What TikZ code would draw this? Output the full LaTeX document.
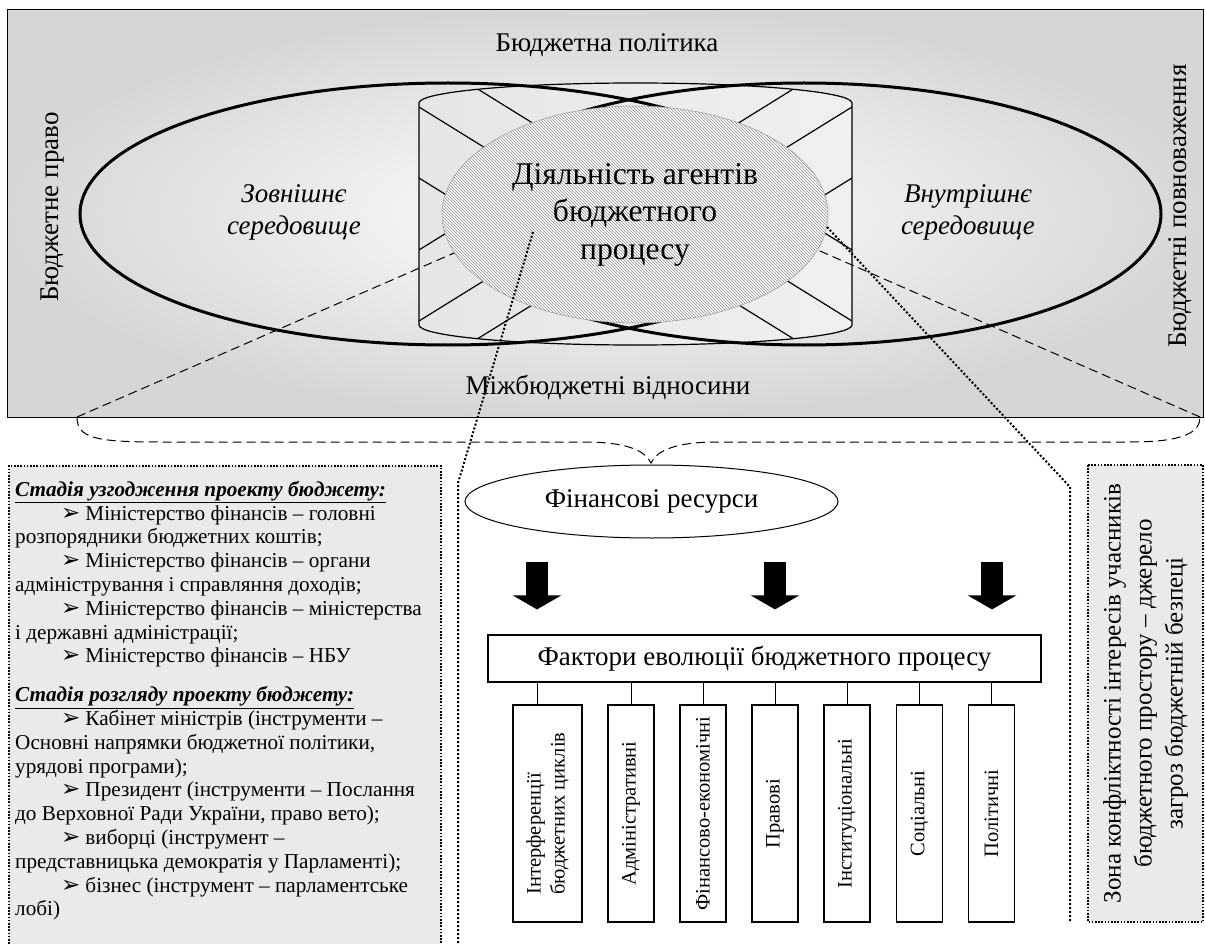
\documentclass[tikz,border=0pt]{standalone}
\usepackage{fontspec}
\setmainfont{Liberation Serif}
\newfontfamily\dejavu{DejaVu Sans}
\usetikzlibrary{shapes.geometric,arrows.meta,positioning,patterns,calc}
\definecolor{boxgrey}{RGB}{234,234,234}
\newcommand{\itemarrow}{\hspace*{46pt}{\dejavu\fontsize{23}{23}\selectfont ➢}\hspace{5pt}}

\begin{document}
\begin{tikzpicture}[x=1pt,y=-1pt,>=Latex,
  lbl/.style={font=\fontsize{27}{31}\selectfont},
  env/.style={font=\fontsize{27}{32}\selectfont\itshape,align=center},
  bigring/.style={line width=3pt},
  canline/.style={line width=1.2pt},
  dashline/.style={line width=1pt,dash pattern=on 9pt off 5pt},
  dotline/.style={line width=2pt,dash pattern=on 2pt off 2pt},
  notebox/.style={draw,line width=1.6pt,dash pattern=on 1.6pt off 1.6pt,fill=boxgrey},
  factor/.style={draw,line width=1.2pt,rotate=90,minimum width=217pt,minimum height=46pt,inner sep=2pt,font=\fontsize{20.5}{24}\selectfont,align=left},
  bigarrow/.style={line width=22pt,-{Triangle[width=48pt,length=14pt]}}]
\useasboundingbox (0,0) rectangle (1205,944);

% budget space
\draw[line width=1pt,inner color=white,outer color=black!16] (7,10) rectangle (1203,417);

% cylinder with the crossed bands
\begin{scope}
\path[clip] (419,103) arc[start angle=180,end angle=0,x radius=216.5pt,y radius=20pt] -- (852,325) arc[start angle=0,end angle=-180,x radius=216.5pt,y radius=20pt] -- cycle;
\fill[left color=black!10,middle color=white,right color=black!6] (419,80) rectangle (852,350);
\draw[canline] (468,83) -- (852,321);
\draw[canline] (419,107) -- (852,375);
\draw[canline] (803,83) -- (419,321);
\draw[canline] (852,107) -- (419,375);
\draw[canline] (419,178) -- (477,214) -- (419,250);
\draw[canline] (852,178) -- (794,214) -- (852,250);
\end{scope}
\draw[canline] (419,103) arc[start angle=180,end angle=0,x radius=216.5pt,y radius=20pt] -- (852,325) arc[start angle=0,end angle=-180,x radius=216.5pt,y radius=20pt] -- cycle;

% environments
\draw[bigring] (448,214) ellipse[x radius=368pt,y radius=131pt];
\draw[bigring] (804,214) ellipse[x radius=357pt,y radius=131pt];

\node[ellipse,minimum width=386pt,minimum height=217pt,inner sep=0pt,draw=black!40,line width=0.5pt,
  preaction={fill=white},pattern=north west lines,pattern color=black!45,
  align=center,font=\fontsize{31.6}{37.5}\selectfont] (agents) at (635,214.5) {Діяльність агентів\\бюджетного\\процесу};

\node[lbl] (policy) at (607,45) {Бюджетна політика};
\node[lbl] (transfers) at (608,387) {Міжбюджетні відносини};
\node[lbl,rotate=90] (law) at (53,207) {Бюджетне право};
\node[lbl,rotate=90] (powers) at (1180,206) {Бюджетні повноваження};
\node[env] (outside) at (294,212) {Зовнішнє\\середовище};
\node[env] (inside) at (968,212) {Внутрішнє\\середовище};

% brace under the space
\coordinate (braceL) at (77,417);
\coordinate (braceR) at (1200,417);
\coordinate (braceTip) at (651,463);
\draw[dashline] (braceL) .. controls (77,438) and (95,442) .. (160,442) -- (585,442)
  .. controls (625,442) and (645,450) .. (braceTip) .. controls (657,450) and (677,442) .. (717,442)
  -- (1130,442) .. controls (1185,442) and (1200,432) .. (braceR);
\draw[dashline] (braceL) -- (agents.192);
\draw[dashline] (braceR) -- (agents.349);

% dotted leaders
\coordinate (dotL) at (533,232);
\coordinate (bendL) at (458,483);
\coordinate (footL) at (458,944);
\coordinate (dotR) at (827,227);
\coordinate (bendR) at (1070,487);
\coordinate (footR) at (1070,922);
\draw[dotline] (dotL) -- (bendL) -- (footL);
\draw[dotline] (dotR) -- (bendR) -- (footR);

% resources and factors
\node[ellipse,draw,line width=1pt,minimum width=373pt,minimum height=73pt,font=\fontsize{27}{31}\selectfont] (res) at (651.5,501.5) {Фінансові ресурси};
\node[draw,line width=1.2pt,minimum width=553pt,minimum height=47pt,font=\fontsize{27}{31}\selectfont] (factors) at (764.5,658.5) {Фактори еволюції бюджетного процесу};

\coordinate (arrA) at (537,562);
\coordinate (arrB) at (775,562);
\coordinate (arrC) at (992,562);
\foreach \a in {arrA,arrB,arrC}
  \draw[bigarrow,shorten >=25pt] (\a) -- (\a |- factors.north);

\node[factor,minimum height=69pt] (f1) at (547.5,813.5) {Інтерференції\\бюджетних циклів};
\node[factor] (f2) at (631,813.5) {Адміністративні};
\node[factor] (f3) at (703,813.5) {Фінансово-економічні};
\node[factor] (f4) at (775,813.5) {Правові};
\node[factor] (f5) at (847,813.5) {Інституціональні};
\node[factor] (f6) at (919.5,813.5) {Соціальні};
\node[factor] (f7) at (991.5,813.5) {Політичні};
\draw[line width=1pt] ([xshift=-10pt]f1.east) -- ([xshift=-10pt]f1.east |- factors.south);
\foreach \i in {2,...,7}
  \draw[line width=1pt] (f\i.east) -- (f\i.east |- factors.south);

% stages of the budget
\node[notebox,anchor=north west,minimum width=432pt,minimum height=490pt] (stagesbox) at (8,465) {};
\node[anchor=north west,align=left,inner sep=0pt,font=\fontsize{21.2}{23.8}\selectfont] (stages) at (15,481) {%
\underline{\textbf{\textit{Стадія узгодження проекту бюджету:}}}\\
\itemarrow Міністерство фінансів – головні\\
розпорядники бюджетних коштів;\\
\itemarrow Міністерство фінансів – органи\\
адміністрування і справляння доходів;\\
\itemarrow Міністерство фінансів – міністерства\\
і державні адміністрації;\\
\itemarrow Міністерство фінансів – НБУ\\[15pt]
\underline{\textbf{\textit{Стадія розгляду проекту бюджету:}}}\\
\itemarrow Кабінет міністрів (інструменти –\\
Основні напрямки бюджетної політики,\\
урядові програми);\\
\itemarrow Президент (інструменти – Послання\\
до Верховної Ради України, право вето);\\
\itemarrow виборці (інструмент –\\
представницька демократія у Парламенті);\\
\itemarrow бізнес (інструмент – парламентське\\
лобі)};

% conflict zone
\node[notebox,rotate=90,minimum width=457pt,minimum height=115pt,align=center,font=\fontsize{25}{31}\selectfont] (zone) at (1145.5,693.5)
  {Зона конфліктності інтересів учасників\\бюджетного простору – джерело\\загроз бюджетній безпеці};
\end{tikzpicture}
\end{document}
